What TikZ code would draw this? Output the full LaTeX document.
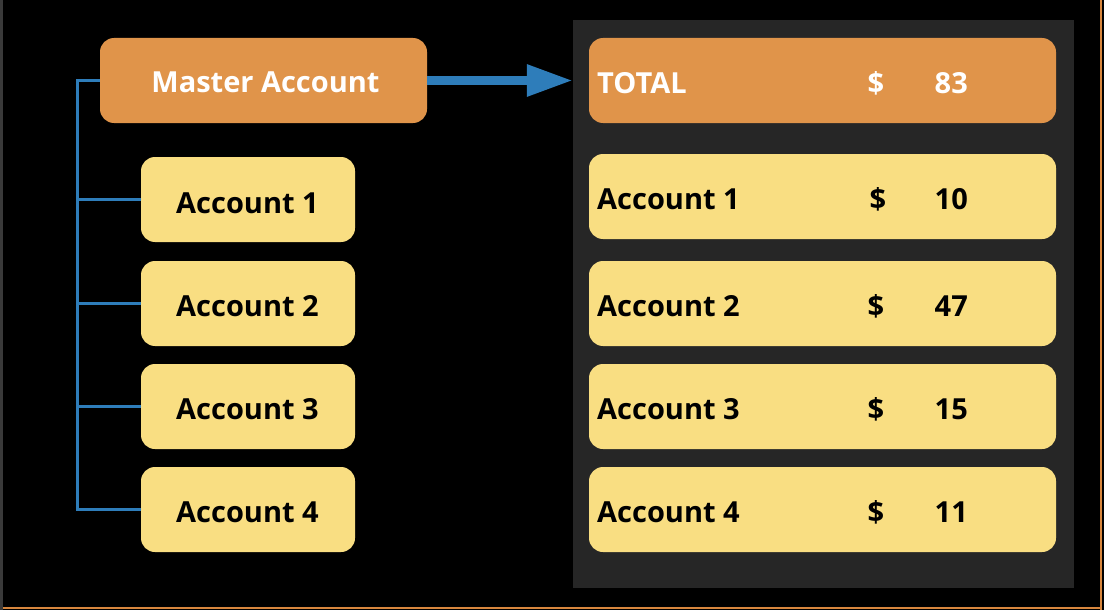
\documentclass[tikz,border=0pt]{standalone}
\usepackage{fontspec}
\setmainfont{Open Sans}
\usetikzlibrary{arrows.meta}
\definecolor{orangebox}{HTML}{E0944A}
\definecolor{yellowbox}{HTML}{F9DE82}
\definecolor{panelgray}{HTML}{262626}
\definecolor{treeblue}{HTML}{2E7DBA}
\definecolor{edgegray}{HTML}{3A3A3A}
\definecolor{edgeorange}{HTML}{D8873E}
\tikzset{
  obox/.style={fill=orangebox, rounded corners=14pt, inner sep=0pt, minimum height=85pt},
  ybox/.style={fill=yellowbox, rounded corners=14pt, inner sep=0pt, minimum height=85pt},
  lbox/.style={ybox, minimum width=214pt},
  rbox/.style={ybox, minimum width=467pt},
  txt/.style={font=\fontsize{29}{35}\selectfont\bfseries, inner sep=0pt},
  wtxt/.style={txt, text=white},
  btxt/.style={txt, text=black},
  treeline/.style={draw=treeblue, line width=3pt, line join=miter},
  bigarrow/.style={draw=treeblue, line width=9pt, -{Triangle[length=46pt,width=30pt]}}
}
\begin{document}
\begin{tikzpicture}[x=1pt,y=-1pt]
\fill[black] (0,0) rectangle (1104,610);
\useasboundingbox (0,0) rectangle (1104,610);
% frame edges
\fill[edgegray] (0,0) rectangle (3,610);
\fill[edgeorange] (1100,0) rectangle (1102,610);
\fill[edgeorange] (3,607) rectangle (1102,609);
% panel
\node[fill=panelgray, inner sep=0pt, minimum width=501pt, minimum height=568pt] (panel) at (823.5,304) {};
% left side
\node[obox, minimum width=327pt] (master) at (263.5,80.5) {};
\node[wtxt] (mastert) at (265.5,82.5) {Master Account};
\node[lbox] (a1) at (248,199.5) {};
\node[lbox] (a2) at (248,303.5) {};
\node[lbox] (a3) at (248,406.5) {};
\node[lbox] (a4) at (248,509.5) {};
\node[btxt] (a1t) at (247.5,203) {Account 1};
\node[btxt] (a2t) at (247.5,306) {Account 2};
\node[btxt] (a3t) at (247.5,409) {Account 3};
\node[btxt] (a4t) at (247.5,512) {Account 4};
% tree
\coordinate (trunk) at (77,0);
\draw[treeline] (master.west) -- (master.west -| trunk) -- (a4.west -| trunk) -- (a4.west);
\draw[treeline] (a1.west -| trunk) -- (a1.west);
\draw[treeline] (a2.west -| trunk) -- (a2.west);
\draw[treeline] (a3.west -| trunk) -- (a3.west);
% arrow
\draw[bigarrow] (master.east) -- (master.east -| panel.west);
% right side
\node[obox, minimum width=467pt] (total) at (822.5,80.5) {};
\node[rbox] (r1) at (822.5,196.5) {};
\node[rbox] (r2) at (822.5,303.5) {};
\node[rbox] (r3) at (822.5,406.5) {};
\node[rbox] (r4) at (822.5,509.5) {};
\node[wtxt, anchor=west] (tl) at (597,83) {TOTAL};
\node[wtxt] (td) at (876,83) {\$};
\node[wtxt, anchor=east] (tv) at (968,83) {83};
\node[btxt, anchor=west] (r1l) at (597,199) {Account 1};
\node[btxt] (r1d) at (878,199) {\$};
\node[btxt, anchor=east] (r1v) at (968,199) {10};
\node[btxt, anchor=west] (r2l) at (597,306) {Account 2};
\node[btxt] (r2d) at (876,306) {\$};
\node[btxt, anchor=east] (r2v) at (968,306) {47};
\node[btxt, anchor=west] (r3l) at (597,409) {Account 3};
\node[btxt] (r3d) at (876,409) {\$};
\node[btxt, anchor=east] (r3v) at (968,409) {15};
\node[btxt, anchor=west] (r4l) at (597,512) {Account 4};
\node[btxt] (r4d) at (876,512) {\$};
\node[btxt, anchor=east] (r4v) at (968,512) {11};
\end{tikzpicture}
\end{document}
